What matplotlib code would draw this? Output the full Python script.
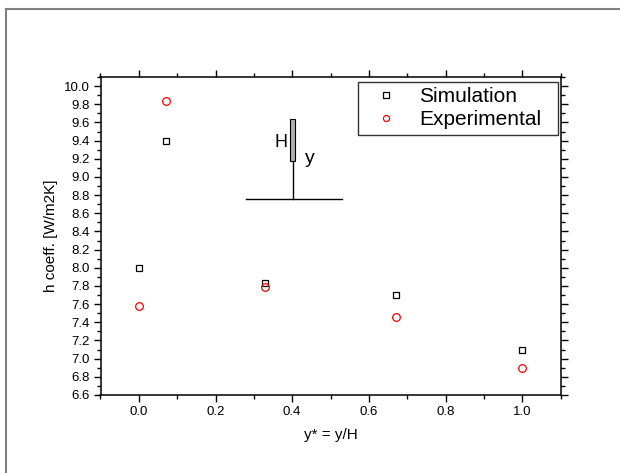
import matplotlib.pyplot as plt
from matplotlib.lines import Line2D
from matplotlib.patches import Rectangle
from matplotlib.ticker import MultipleLocator

# data
y_star = [0.0, 0.07, 0.33, 0.67, 1.0]
h_simulation = [8.0, 9.4, 7.83, 7.7, 7.1]
h_experimental = [7.58, 9.84, 7.79, 7.46, 6.9]

plt.rcParams['font.family'] = ['Liberation Sans', 'DejaVu Sans']

fig = plt.figure(figsize=(6.2, 4.73), dpi=100)
ax = fig.add_axes([100.5 / 620, 1 - 395 / 473, 460 / 620, 318 / 473])

ax.plot(y_star, h_simulation, linestyle='none', marker='s', markersize=5,
        markerfacecolor='none', markeredgecolor='black', markeredgewidth=0.9,
        label='Simulation')
ax.plot(y_star, h_experimental, linestyle='none', marker='o', markersize=5.5,
        markerfacecolor='none', markeredgecolor='red', markeredgewidth=0.9,
        label='Experimental')

ax.set_xlim(-0.1, 1.1)
ax.set_ylim(6.6, 10.1)
ax.xaxis.set_major_locator(MultipleLocator(0.2))
ax.xaxis.set_minor_locator(MultipleLocator(0.1))
ax.yaxis.set_major_locator(MultipleLocator(0.2))
ax.yaxis.set_minor_locator(MultipleLocator(0.1))
ax.tick_params(which='both', direction='out', top=True, right=True,
               labelsize=9.5, width=1)
ax.tick_params(which='major', length=5, pad=3)
ax.tick_params(which='minor', length=3)
for s in ax.spines.values():
    s.set_linewidth(1.1)

ax.set_xlabel('y* = y/H', fontsize=11, labelpad=7)
ax.set_ylabel('h coeff. [W/m2K]', fontsize=11, labelpad=4)

# little wall sketch
ax.plot([0.279, 0.531], [8.758, 8.758], color='black', lw=1)
ax.plot([0.401, 0.401], [8.758, 9.17], color='black', lw=1)
ax.add_patch(Rectangle((0.395, 9.17), 0.012, 0.47, facecolor='#b0b0b0',
                       edgecolor='black', lw=0.8))
ax.text(0.372, 9.38, 'H', fontsize=13, ha='center', va='center')
ax.text(0.447, 9.2, 'y', fontsize=14, ha='center', va='center')

leg = ax.legend(loc='upper left', bbox_to_anchor=(0.5598, 0.5, 0.4348, 0.484),
                mode='expand', fontsize=15, frameon=True, fancybox=False,
                edgecolor='black', handletextpad=0.47, borderpad=0.25,
                labelspacing=0.2, handlelength=2.2, borderaxespad=0,
                markerscale=0.8)
leg.get_frame().set_linewidth(1)

# outer grey frame
fig.add_artist(Line2D([6 / 620, 1], [1 - 9.5 / 473, 1 - 9.5 / 473],
                      color='#808080', lw=1.5, transform=fig.transFigure))
fig.add_artist(Line2D([6 / 620, 6 / 620], [0, 1 - 9.5 / 473],
                      color='#808080', lw=1.5, transform=fig.transFigure))

fig.savefig('out.png', dpi=100)
